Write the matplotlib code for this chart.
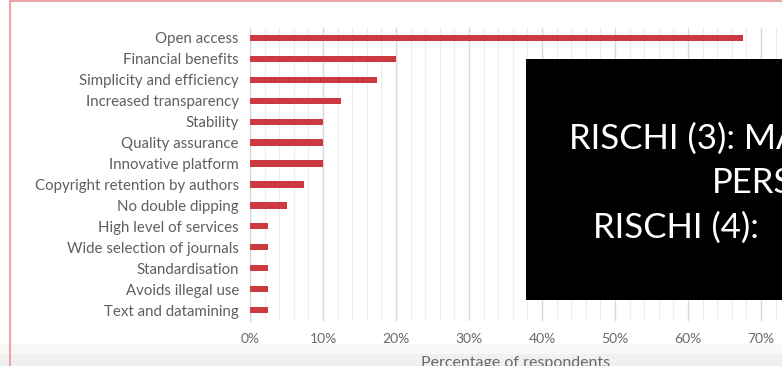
import numpy as np
import matplotlib.pyplot as plt
from matplotlib.patches import Rectangle
from matplotlib.lines import Line2D

categories = ['Open access', 'Financial benefits', 'Simplicity and efficiency',
              'Increased transparency', 'Stability', 'Quality assurance',
              'Innovative platform', 'Copyright retention by authors',
              'No double dipping', 'High level of services',
              'Wide selection of journals', 'Standardisation',
              'Avoids illegal use', 'Text and datamining']
values = [67.5, 20.0, 17.4, 12.5, 10.0, 10.0, 10.0, 7.4, 5.0, 2.5, 2.5, 2.5, 2.5, 2.5]
xticks = [0, 10, 20, 30, 40, 50, 60, 70]
xtick_labels = ['0%', '10%', '20%', '30%', '40%', '50%', '60%', '70%']

W, H = 782, 366
plt.rcParams['font.family'] = ['Lato', 'DejaVu Sans']
fig = plt.figure(figsize=(W / 100, H / 100), dpi=100)
fig.patch.set_facecolor('white')

# bande grigie in basso
fig.add_artist(Rectangle((0, 0), 1, 22 / H, transform=fig.transFigure,
                         facecolor='#f8f8f8', edgecolor='none', zorder=0))
fig.add_artist(Rectangle((0, 0), 1, 12 / H, transform=fig.transFigure,
                         facecolor='#f0f0f0', edgecolor='none', zorder=0))
# bordo rosa
fig.add_artist(Line2D([10 / W, 10 / W], [0, 1 - 1 / H], transform=fig.transFigure,
                      color='#eaa4a4', lw=1.5))
fig.add_artist(Line2D([10 / W, 1], [1 - 1 / H, 1 - 1 / H], transform=fig.transFigure,
                      color='#eaa4a4', lw=1.5))

ax = fig.add_axes([250 / W, (H - 320.5) / H, (W - 250) / W, 293 / H])
ax.set_facecolor('none')
y = np.arange(len(categories))
ax.barh(y, values, height=0.3, color='#cc3a3f', zorder=3)
ax.set_ylim(len(categories) - 0.5, -0.5)
ax.set_xlim(0, (W - 250) / 7.3)
ax.set_yticks(y)
ax.set_yticklabels(categories, fontsize=10.8, color='#5f5f5f')
ax.set_xticks(xticks)
ax.set_xticklabels(xtick_labels, fontsize=10, color='#6a6a6a')
ax.set_xticks(np.arange(0, 74, 2), minor=True)
ax.tick_params(axis='both', length=0, which='both')
ax.tick_params(axis='x', pad=9)
ax.tick_params(axis='y', pad=8)
ax.grid(axis='x', which='minor', color='#ececec', lw=0.8, zorder=0)
ax.grid(axis='x', which='major', color='#d8d8d8', lw=1.0, zorder=0)
for s in ['top', 'right', 'bottom']:
    ax.spines[s].set_visible(False)
ax.spines['left'].set_color('#d9d9d9')
ax.set_xlabel('Percentage of respondents', fontsize=11.5, color='#6a6a6a', labelpad=8)

# riquadro nero
fig.add_artist(Rectangle((526 / W, (H - 300) / H), (W - 526) / W, 241 / H,
                         transform=fig.transFigure, facecolor='black',
                         edgecolor='none', zorder=10))
box_lines = ['RISCHI (3): MA', 'PERSONALE', 'RISCHI (4): ']
box_x = [569, 712, 593]
box_y = [135.5, 180, 225]
for t, bx, by in zip(box_lines, box_x, box_y):
    fig.text(bx / W, (H - by) / H, t, color='white', fontsize=25,
             va='center_baseline', ha='left', zorder=11)

fig.savefig('out.png', dpi=100)
